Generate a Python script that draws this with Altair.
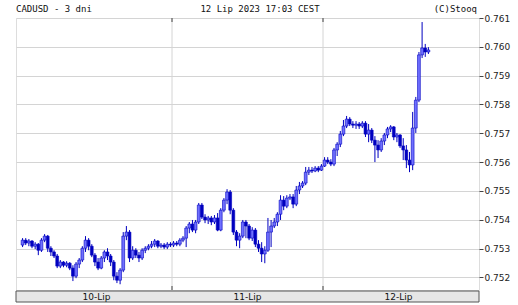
import altair as alt
import pandas as pd

# 30-minute candles, 10-12 July 2023 (CADUSD)
opens = [
    0.75312, 0.75329, 0.75319, 0.75326, 0.75308, 0.75315, 0.75294, 0.75329, 0.75343, 0.75301,
    0.75288, 0.75274, 0.75239, 0.75253, 0.75242, 0.75249, 0.75232, 0.75204, 0.75246, 0.75260,
    0.75301, 0.75329, 0.75308, 0.75277, 0.75253, 0.75232, 0.75267, 0.75288, 0.75274, 0.75253,
    0.75204, 0.75190, 0.75225, 0.75343, 0.75357, 0.75267, 0.75294, 0.75277, 0.75267, 0.75294,
    0.75301, 0.75308, 0.75315, 0.75326, 0.75308, 0.75312, 0.75305, 0.75315,
    0.75312, 0.75319, 0.75315, 0.75329, 0.75336, 0.75371, 0.75385, 0.75364, 0.75392, 0.75451,
    0.75409, 0.75399, 0.75406, 0.75392, 0.75406, 0.75364, 0.75433, 0.75468, 0.75496, 0.75433,
    0.75357, 0.75329, 0.75343, 0.75392, 0.75378, 0.75336, 0.75364, 0.75315, 0.75301, 0.75281,
    0.75294, 0.75357, 0.75378, 0.75392, 0.75419, 0.75468, 0.75447, 0.75475, 0.75479, 0.75454,
    0.75503, 0.75517, 0.75527, 0.75565, 0.75572, 0.75569, 0.75579, 0.75572,
    0.75586, 0.75607, 0.75600, 0.75593, 0.75642, 0.75662, 0.75697, 0.75725, 0.75749, 0.75732,
    0.75728, 0.75732, 0.75725, 0.75735, 0.75697, 0.75711, 0.75676, 0.75659, 0.75642, 0.75673,
    0.75694, 0.75715, 0.75722, 0.75687, 0.75694, 0.75656, 0.75642, 0.75607, 0.75590, 0.75718,
    0.75815, 0.75972, 0.75996, 0.75982,
]
highs = [
    0.75336, 0.75336, 0.75333, 0.75329, 0.75322, 0.75319, 0.75336, 0.75350, 0.75347, 0.75308,
    0.75294, 0.75281, 0.75260, 0.75256, 0.75256, 0.75253, 0.75242, 0.75253, 0.75267, 0.75308,
    0.75343, 0.75336, 0.75315, 0.75284, 0.75267, 0.75274, 0.75294, 0.75301, 0.75281, 0.75260,
    0.75218, 0.75232, 0.75357, 0.75378, 0.75364, 0.75308, 0.75301, 0.75288, 0.75301, 0.75308,
    0.75315, 0.75326, 0.75333, 0.75329, 0.75319, 0.75319, 0.75322, 0.75322,
    0.75326, 0.75326, 0.75336, 0.75343, 0.75378, 0.75392, 0.75399, 0.75399, 0.75458, 0.75458,
    0.75419, 0.75413, 0.75413, 0.75416, 0.75423, 0.75440, 0.75475, 0.75506, 0.75503, 0.75440,
    0.75364, 0.75353, 0.75399, 0.75399, 0.75385, 0.75374, 0.75371, 0.75329, 0.75322, 0.75308,
    0.75406, 0.75399, 0.75406, 0.75426, 0.75485, 0.75482, 0.75485, 0.75489, 0.75489, 0.75517,
    0.75531, 0.75534, 0.75583, 0.75583, 0.75583, 0.75586, 0.75586, 0.75593,
    0.75617, 0.75617, 0.75610, 0.75649, 0.75669, 0.75708, 0.75746, 0.75760, 0.75756, 0.75742,
    0.75742, 0.75739, 0.75742, 0.75742, 0.75732, 0.75718, 0.75690, 0.75676, 0.75683, 0.75701,
    0.75722, 0.75728, 0.75725, 0.75701, 0.75697, 0.75683, 0.75659, 0.75635, 0.75774, 0.75826,
    0.75982, 0.76086, 0.76010, 0.75999,
]
lows = [
    0.75305, 0.75312, 0.75308, 0.75301, 0.75298, 0.75277, 0.75288, 0.75322, 0.75288, 0.75274,
    0.75267, 0.75232, 0.75232, 0.75235, 0.75235, 0.75225, 0.75187, 0.75197, 0.75232, 0.75253,
    0.75288, 0.75294, 0.75270, 0.75239, 0.75225, 0.75228, 0.75253, 0.75260, 0.75239, 0.75190,
    0.75180, 0.75176, 0.75218, 0.75329, 0.75253, 0.75260, 0.75267, 0.75253, 0.75260, 0.75284,
    0.75294, 0.75301, 0.75305, 0.75301, 0.75301, 0.75298, 0.75298, 0.75305,
    0.75305, 0.75308, 0.75308, 0.75322, 0.75305, 0.75353, 0.75357, 0.75353, 0.75385, 0.75402,
    0.75388, 0.75385, 0.75381, 0.75385, 0.75360, 0.75360, 0.75426, 0.75454, 0.75419, 0.75347,
    0.75308, 0.75301, 0.75336, 0.75336, 0.75329, 0.75326, 0.75305, 0.75288, 0.75253, 0.75249,
    0.75288, 0.75305, 0.75371, 0.75378, 0.75399, 0.75433, 0.75440, 0.75468, 0.75440, 0.75447,
    0.75489, 0.75510, 0.75520, 0.75555, 0.75562, 0.75565, 0.75565, 0.75569,
    0.75583, 0.75593, 0.75586, 0.75586, 0.75621, 0.75652, 0.75690, 0.75718, 0.75725, 0.75718,
    0.75715, 0.75715, 0.75718, 0.75687, 0.75669, 0.75666, 0.75600, 0.75614, 0.75635, 0.75659,
    0.75683, 0.75704, 0.75676, 0.75669, 0.75649, 0.75607, 0.75579, 0.75565, 0.75572, 0.75701,
    0.75808, 0.75961, 0.75965, 0.75975,
]
closes = [
    0.75329, 0.75319, 0.75326, 0.75308, 0.75315, 0.75294, 0.75329, 0.75343, 0.75301, 0.75288,
    0.75274, 0.75239, 0.75253, 0.75242, 0.75249, 0.75232, 0.75204, 0.75246, 0.75260, 0.75301,
    0.75329, 0.75308, 0.75277, 0.75253, 0.75232, 0.75267, 0.75288, 0.75274, 0.75253, 0.75204,
    0.75190, 0.75225, 0.75343, 0.75357, 0.75267, 0.75294, 0.75277, 0.75267, 0.75294, 0.75301,
    0.75308, 0.75315, 0.75326, 0.75308, 0.75312, 0.75305, 0.75315, 0.75312,
    0.75319, 0.75315, 0.75329, 0.75336, 0.75371, 0.75385, 0.75364, 0.75392, 0.75451, 0.75409,
    0.75399, 0.75406, 0.75392, 0.75406, 0.75364, 0.75433, 0.75468, 0.75496, 0.75433, 0.75357,
    0.75329, 0.75343, 0.75392, 0.75378, 0.75336, 0.75364, 0.75315, 0.75301, 0.75281, 0.75294,
    0.75357, 0.75378, 0.75392, 0.75419, 0.75468, 0.75447, 0.75475, 0.75479, 0.75454, 0.75503,
    0.75517, 0.75527, 0.75565, 0.75572, 0.75569, 0.75579, 0.75572, 0.75586,
    0.75607, 0.75600, 0.75593, 0.75642, 0.75662, 0.75697, 0.75725, 0.75749, 0.75732, 0.75728,
    0.75732, 0.75725, 0.75735, 0.75697, 0.75711, 0.75676, 0.75659, 0.75642, 0.75673, 0.75694,
    0.75715, 0.75722, 0.75687, 0.75694, 0.75656, 0.75642, 0.75607, 0.75590, 0.75718, 0.75815,
    0.75972, 0.75996, 0.75982, 0.75989,
]

day_labels = ["10-Lip", "11-Lip", "12-Lip"]
day_starts = [0, 48, 96]          # candle index where each day starts
day_centers = [24, 72, 120]
y_ticks = [0.752, 0.753, 0.754, 0.755, 0.756, 0.757, 0.758, 0.759, 0.760, 0.761]

header_left = "CADUSD - 3 dni"
header_mid = "12 Lip 2023 17:03 CEST"
header_right = "(C)Stooq"

n = len(closes)
df = pd.DataFrame({
    "i": [k + 0.5 for k in range(n)],
    "o": opens, "h": highs, "l": lows, "c": closes,
})
df["dir"] = ["up" if c >= o else "down" for o, c in zip(opens, closes)]

W, H = 463, 272
xs = alt.Scale(domain=[0, 144], nice=False, zero=False)
ys = alt.Scale(domain=[0.75156, 0.761], nice=False, zero=False)
y_axis = alt.Axis(
    orient="right", values=y_ticks, format=".3f", title=None, tickCount=10,
    grid=True, gridColor="#d4d4d4", gridWidth=1,
    domain=False, ticks=True, tickColor="#444", tickSize=4,
    labelFont="DejaVu Sans", labelFontSize=9, labelColor="#222",
    labelPadding=1, labelOverlap=False, labelBound=False,
)

base = alt.Chart(df)

bounds = pd.DataFrame({"d": day_starts[1:]})
vgrid = alt.Chart(bounds).mark_rule(color="#d4d4d4", strokeWidth=1).encode(
    x=alt.X("d:Q", scale=xs, axis=None))
vtick_top = alt.Chart(bounds).mark_rule(color="#444").encode(
    x=alt.X("d:Q", scale=xs, axis=None), y=alt.value(0), y2=alt.value(4))
vtick_bot = alt.Chart(bounds).mark_rule(color="#444").encode(
    x=alt.X("d:Q", scale=xs, axis=None), y=alt.value(H - 4), y2=alt.value(H))

wicks = base.mark_rule(color="#0000c0", strokeWidth=1).encode(
    x=alt.X("i:Q", scale=xs, axis=None),
    y=alt.Y("l:Q", scale=ys, axis=y_axis),
    y2="h:Q",
)
bodies = base.mark_bar(size=2.8, stroke="#0000c0", strokeWidth=0.6).encode(
    x=alt.X("i:Q", scale=xs, axis=None),
    y=alt.Y("o:Q", scale=ys, axis=y_axis),
    y2="c:Q",
    fill=alt.Fill("dir:N", scale=alt.Scale(domain=["up", "down"], range=["#7070ff", "#0000c0"]), legend=None),
)

band = alt.Chart(pd.DataFrame({"a": [0]})).mark_rect(
    fill="#e6e6e6", stroke="#555", strokeWidth=1).encode(
    x=alt.value(0), x2=alt.value(W), y=alt.value(H + 1), y2=alt.value(H + 12))

days = pd.DataFrame({"lab": day_labels, "ctr": day_centers})
day_text = alt.Chart(days).mark_text(
    font="DejaVu Sans", fontSize=9, color="#111", baseline="middle").encode(
    x=alt.X("ctr:Q", scale=xs, axis=None), y=alt.value(H + 7), text="lab:N")

def header(txt, x, align):
    return alt.Chart(pd.DataFrame({"t": [txt]})).mark_text(
        font="DejaVu Sans Mono", fontSize=9, color="#111", align=align,
        baseline="middle").encode(x=alt.value(x), y=alt.value(-9), text="t:N")

chart = alt.layer(
    vgrid, vtick_top, vtick_bot, wicks, bodies, band, day_text,
    header(header_left, 0, "left"),
    header(header_mid, 244, "center"),
    header(header_right, W - 2, "right"),
).properties(
    width=W, height=H,
    autosize=alt.AutoSizeParams(type="none"),
    padding={"left": 16, "top": 18, "right": 39, "bottom": 15},
).configure_view(stroke="#555", strokeWidth=1).configure(background="white")

chart.save("out.html", embed_options={"renderer": "svg", "actions": False})
